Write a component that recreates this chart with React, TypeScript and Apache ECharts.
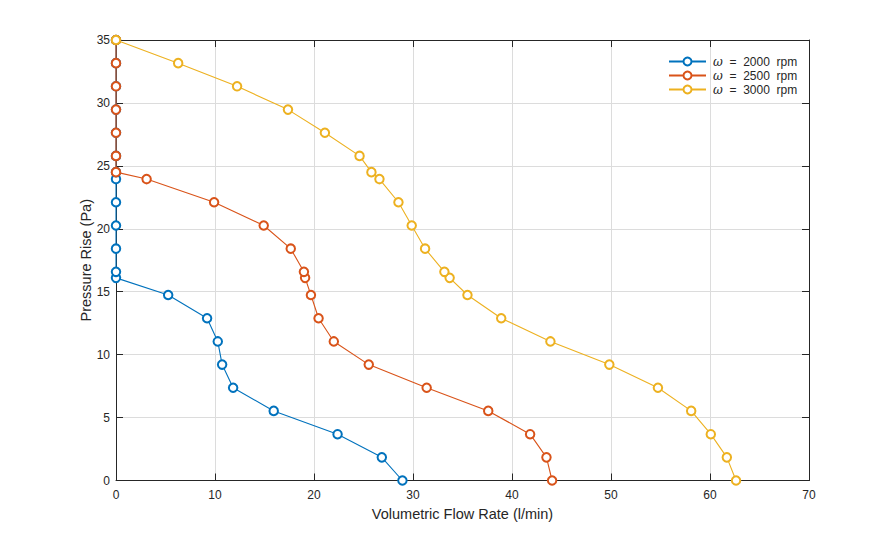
import React, { useEffect, useRef } from "react";
import * as echarts from "echarts";

const pressureValues = [0, 1.84, 3.68, 5.53, 7.37, 9.21, 11.05, 12.89, 14.74, 16.1, 16.58, 18.42, 20.26, 22.11, 23.95, 24.5, 25.79, 27.63, 29.47, 31.32, 33.16, 35];
const flow2000 = [28.93, 26.85, 22.38, 15.93, 11.83, 10.72, 10.28, 9.2, 5.27, 0, 0, 0, 0, 0, 0, 0, 0, 0, 0, 0, 0, 0];
const flow2500 = [44.05, 43.48, 41.83, 37.6, 31.38, 25.53, 22.0, 20.46, 19.69, 19.1, 18.98, 17.65, 14.92, 9.91, 3.09, 0, 0, 0, 0, 0, 0, 0];
const flow3000 = [62.63, 61.7, 60.08, 58.1, 54.74, 49.83, 43.88, 38.91, 35.5, 33.7, 33.17, 31.22, 29.87, 28.53, 26.61, 25.8, 24.6, 21.1, 17.37, 12.23, 6.28, 0];
const seriesNames = ["ω = 2000 rpm", "ω = 2500 rpm", "ω = 3000 rpm"];
const seriesColors = ["#0072BD", "#D95319", "#EDB120"];
const xTitle = "Volumetric Flow Rate (l/min)";
const yTitle = "Pressure Rise (Pa)";

const FONT = "'Liberation Sans', Arial, Helvetica, sans-serif";
const AX = "#262626";

export default function App() {
  const ref = useRef<HTMLDivElement>(null);
  useEffect(() => {
    document.body.style.margin = "0";
    const chart = echarts.init(ref.current!, undefined, { renderer: "svg" });
    const flows = [flow2000, flow2500, flow3000];
    const series = flows.map((f, i) => ({
      name: seriesNames[i],
      type: "line",
      xAxisIndex: 0,
      yAxisIndex: 0,
      data: f.map((x, k) => [x, pressureValues[k]]),
      symbol: "emptyCircle",
      symbolSize: 8.5,
      lineStyle: { color: seriesColors[i], width: 1.1 },
      itemStyle: { color: seriesColors[i], borderColor: seriesColors[i], borderWidth: 0.9 },
      z: 2 + i,
    }));
    const common = {
      axisLine: { show: true, onZero: false, lineStyle: { color: AX, width: 1 } },
      axisTick: { show: true, inside: true, length: 7, lineStyle: { color: AX, width: 1 } },
    };
    chart.setOption({
      animation: false,
      textStyle: { fontFamily: FONT },
      grid: { left: 116, top: 40, width: 693, height: 440.5, containLabel: false },
      legend: {
        orient: "vertical",
        left: 668,
        top: 55.5,
        padding: 0,
        itemWidth: 37,
        itemHeight: 10,
        itemGap: 2,
        data: seriesNames,
        formatter: (name: string) => {
          const rest = name.replace("ω = ", "");
          const parts = rest.split(" ");
          return "{i|ω}{t|  =  " + parts[0] + "  " + parts[1] + "}";
        },
        textStyle: {
          color: AX,
          fontSize: 12,
          fontFamily: FONT,
          padding: [0, 0, 0, 2],
          rich: {
            i: { fontStyle: "italic", fontSize: 12, fontFamily: "'DejaVu Serif', serif", color: AX },
            t: { fontSize: 12, fontFamily: FONT, color: AX },
          },
        },
      },
      xAxis: [
        {
          type: "value",
          min: 0,
          max: 70,
          interval: 10,
          position: "bottom",
          ...common,
          axisLabel: { color: AX, fontSize: 12, margin: 8, fontFamily: FONT },
          splitLine: { show: true, lineStyle: { color: "#dcdcdc", width: 1 } },
          name: xTitle,
          nameLocation: "middle",
          nameGap: 33,
          nameMoveOverlap: false,
          nameTextStyle: { color: AX, fontSize: 14.5, fontFamily: FONT, verticalAlign: "middle" },
        },
        {
          type: "value",
          min: 0,
          max: 70,
          interval: 10,
          position: "top",
          ...common,
          axisLabel: { show: false },
          splitLine: { show: false },
        },
      ],
      yAxis: [
        {
          type: "value",
          min: 0,
          max: 35,
          interval: 5,
          position: "left",
          ...common,
          axisLabel: { color: AX, fontSize: 12, margin: 6, fontFamily: FONT },
          splitLine: { show: true, lineStyle: { color: "#dcdcdc", width: 1 } },
          name: yTitle,
          nameLocation: "middle",
          nameGap: 30.5,
          nameMoveOverlap: false,
          nameTextStyle: { color: AX, fontSize: 14.5, fontFamily: FONT, verticalAlign: "middle" },
        },
        {
          type: "value",
          min: 0,
          max: 35,
          interval: 5,
          position: "right",
          ...common,
          axisLabel: { show: false },
          splitLine: { show: false },
        },
      ],
      series,
    });
    return () => chart.dispose();
  }, []);
  return <div ref={ref} style={{ width: 895, height: 540 }} />;
}
